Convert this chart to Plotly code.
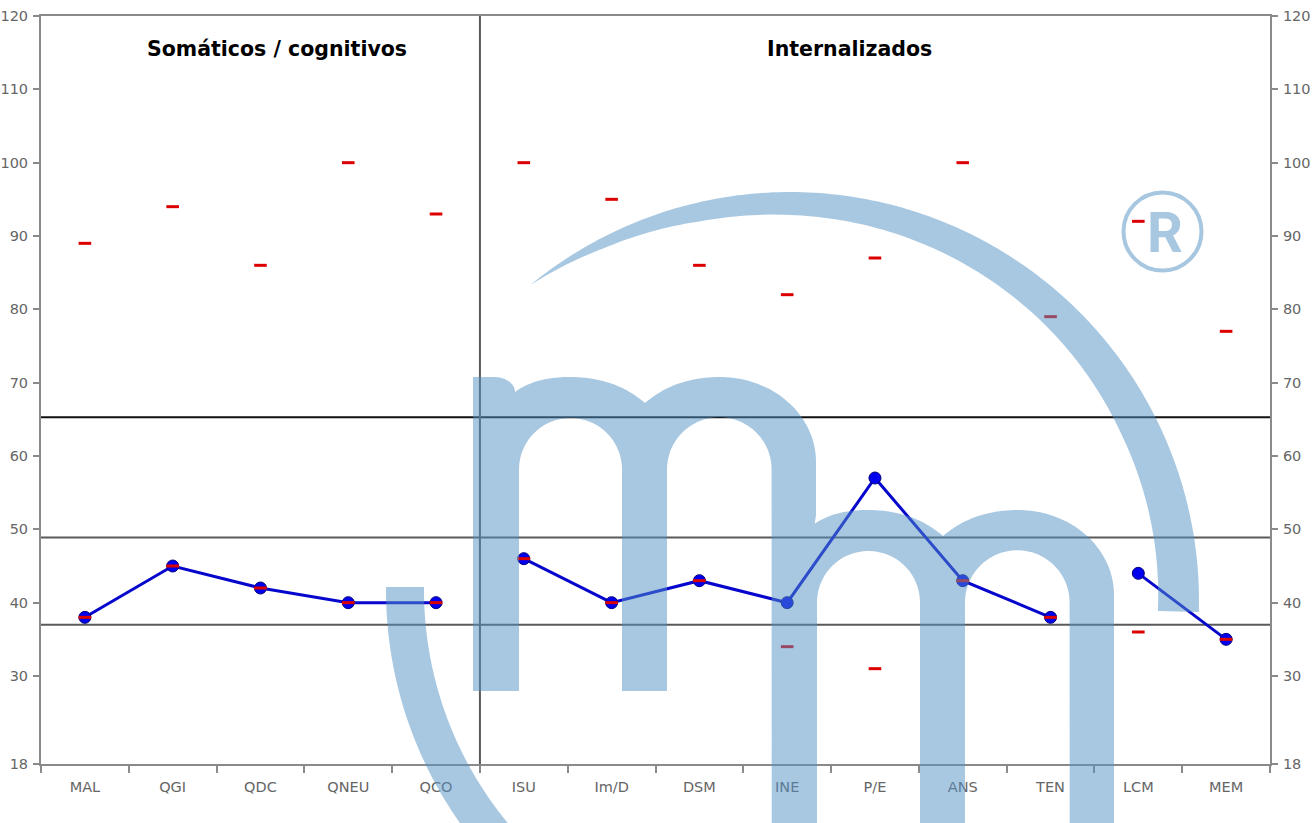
import numpy as np
import plotly.graph_objects as go

# ---------------- data ----------------
categories = ["MAL", "QGI", "QDC", "QNEU", "QCO", "ISU", "Im/D", "DSM",
              "INE", "P/E", "ANS", "TEN", "LCM", "MEM"]
scores = [38, 45, 42, 40, 40, 46, 40, 43, 40, 57, 43, 38, 44, 35]
low_marks = [38, 45, 42, 40, 40, 46, 40, 43, 34, 31, 43, 38, 36, 35]
high_marks = [89, 94, 86, 100, 93, 100, 95, 86, 82, 87, 100, 79, 92, 77]
line_groups = [["MAL", "QGI", "QDC", "QNEU", "QCO"],
               ["ISU", "Im/D", "DSM", "INE", "P/E", "ANS", "TEN"],
               ["LCM", "MEM"]]
ref_levels = [65.3, 48.9, 37]
ref_colors = ["#111111", "#5a5a5a", "#5a5a5a"]
y_ticks = [18, 30, 40, 50, 60, 70, 80, 90, 100, 110, 120]
section_titles = ["Somáticos / cognitivos", "Internalizados"]

# ---------------- geometry of figure ----------------
FIG_W, FIG_H = 1316, 823
L, T, PW, PH = 41, 16, 1229, 748


def to_paper(x, y):
    return (x - L) / PW, (T + PH - y) / PH


def path_str(pts):
    s = []
    for i, (x, y) in enumerate(pts):
        px, py = to_paper(x, y)
        s.append(("M " if i == 0 else "L ") + f"{px:.5f},{py:.5f}")
    return " ".join(s) + " Z"


def qbez(p0, c, p1, n=24):
    t = np.linspace(0, 1, n)[:, None]
    p0, c, p1 = map(np.array, (p0, c, p1))
    pts = (1 - t) ** 2 * p0 + 2 * (1 - t) * t * c + t ** 2 * p1
    return [tuple(p) for p in pts]


def earc(cx, cy, rx, ry, a0, a1, n=48):
    th = np.radians(np.linspace(a0, a1, n))
    return [(cx + rx * np.cos(a), cy - ry * np.sin(a)) for a in th]


def sh(pts, dx, dy):
    return [(x + dx, y + dy) for x, y in pts]


def humps(dx, dy):
    pts = qbez((515, 392), (535, 377), (570, 377))
    pts += qbez((570, 377), (615, 377), (645, 403))[1:]
    pts += qbez((645, 403), (675, 377), (720, 377))[1:]
    pts += earc(720, 462, 96, 85, 90, 0)[1:]
    return sh(pts, dx, dy)


def mm_logo():
    DX, DY = 298, 133
    pts = [(473, 691), (473, 377), (494, 377)]
    pts += earc(494, 392, 21, 15, 90, 0)[1:-1]
    pts += humps(0, 0)                      # ends at (816, 462)
    pts += [(816, 515)]
    pts += humps(DX, DY)[1:]                # second m
    pts += [(816 + DX, 691 + DY), (771.7 + DX, 691 + DY)]
    pts += earc(719.3 + DX, 469.5 + DY, 52.3, 52.3, 0, 180)
    pts += [(667 + DX, 691 + DY), (622 + DX, 691 + DY)]
    pts += earc(570.5 + DX, 469.5 + DY, 51.5, 51.5, 0, 180)
    pts += [(519 + DX, 691 + DY), (771.7, 691 + DY)]
    pts += earc(719.3, 469.5, 52.3, 52.3, 0, 180)
    pts += [(667, 691), (622, 691)]
    pts += earc(570.5, 469.5, 51.5, 51.5, 0, 180)
    pts += [(519, 691)]
    return pts


def crescent():
    cx, cy, r = 790, 601, 409
    th_o = np.linspace(129.45, -1.54, 160)
    outer = [(cx + r * np.cos(np.radians(a)), cy - r * np.sin(np.radians(a))) for a in th_o]
    th_i = np.linspace(-1.54, 129.45, 160)
    thick = np.interp(th_i, [-1.54, 26.7, 90, 103, 118, 129.45], [41, 38, 23, 19, 10, 0])
    inner = [(cx + (r - t) * np.cos(np.radians(a)), cy - (r - t) * np.sin(np.radians(a)))
             for a, t in zip(th_i, thick)]
    return outer + inner


def lower_arc():
    cx, cy, ro, ri = 790, 590, 404, 366
    a_o0 = 180 - np.degrees(np.arcsin(3 / ro))
    a_i0 = 180 - np.degrees(np.arcsin(3 / ri))
    a_o1 = 180 + np.degrees(np.arcsin(245 / ro))
    a_i1 = 180 + np.degrees(np.arcsin(245 / ri))
    inner = earc(cx, cy, ri, ri, a_i0, a_i1, 60)
    outer = earc(cx, cy, ro, ro, a_o1, a_o0, 60)
    return inner + outer


wm_path = " ".join([path_str(mm_logo()), path_str(crescent()), path_str(lower_arc())])
WM_COLOR = "rgb(81,145,197)"

# ---------------- figure ----------------
fig = go.Figure()

for grp in line_groups:
    idx = [categories.index(c) for c in grp]
    fig.add_trace(go.Scatter(
        x=[categories[i] for i in idx], y=[scores[i] for i in idx],
        mode="lines+markers",
        line=dict(color="#0606cc", width=3),
        marker=dict(size=12, color="#0000ee", line=dict(color="#00007a", width=1)),
        hoverinfo="x+y"))

for vals in (low_marks, high_marks):
    fig.add_trace(go.Scatter(
        x=categories, y=vals, mode="markers",
        marker=dict(symbol="line-ew", size=9, line=dict(color="#dd0000", width=3)),
        hoverinfo="x+y"))

# invisible anchor for right axis
fig.add_trace(go.Scatter(x=categories, y=scores, yaxis="y2", mode="markers",
                         marker=dict(opacity=0), hoverinfo="skip"))

shapes = []
for v, col in zip(ref_levels, ref_colors):
    shapes.append(dict(type="line", xref="paper", x0=0, x1=1, yref="y", y0=v, y1=v,
                       line=dict(color=col, width=2), layer="below"))
shapes.append(dict(type="line", xref="x", x0=4.5, x1=4.5, yref="paper", y0=0, y1=1,
                   line=dict(color="#5a5a5a", width=2), layer="below"))
shapes.append(dict(type="path", xref="paper", yref="paper", path=wm_path,
                   fillcolor=WM_COLOR, line=dict(width=0), opacity=0.5, layer="above"))
cx0, cy0 = to_paper(1162.5 - 39, 231.5 + 39)
cx1, cy1 = to_paper(1162.5 + 39, 231.5 - 39)
shapes.append(dict(type="circle", xref="paper", yref="paper", x0=cx0, y0=cy0, x1=cx1, y1=cy1,
                   line=dict(color=WM_COLOR, width=4), opacity=0.5, layer="above"))

ann = []
for title, (px, py) in zip(section_titles, [(277, 49), (850, 49)]):
    ax, ay = to_paper(px, py)
    ann.append(dict(text=title, x=ax, y=ay, xref="paper", yref="paper", showarrow=False,
                    xanchor="center", yanchor="middle",
                    font=dict(family="DejaVu Sans", size=20.5, color="#000000", weight="bold")))
rx, ry = to_paper(1164.5, 233)
ann.append(dict(text="R", x=rx, y=ry, xref="paper", yref="paper", showarrow=False,
                xanchor="center", yanchor="middle",
                font=dict(family="Roboto", size=56, color="rgba(81,145,197,0.5)", weight="bold")))

axis_font = dict(family="DejaVu Sans", size=14.5, color="#666666")
AX_COL = "#8a8a8a"
yaxis_common = dict(range=[18, 120], tickmode="array", tickvals=y_ticks, automargin=False,
                    showgrid=False, zeroline=False, showline=True, linecolor=AX_COL,
                    linewidth=2, ticks="outside", ticklen=6, tickwidth=1.5, tickcolor=AX_COL,
                    tickfont=axis_font, ticklabelstandoff=2)

fig.update_layout(
    width=FIG_W, height=FIG_H,
    margin=dict(l=L, r=FIG_W - L - PW, t=T, b=FIG_H - T - PH, autoexpand=False),
    paper_bgcolor="white", plot_bgcolor="white",
    showlegend=False,
    font=dict(family="DejaVu Sans"),
    xaxis=dict(type="category", categoryorder="array", categoryarray=categories,
               range=[-0.5, len(categories) - 0.5], showgrid=False, zeroline=False,
               automargin=False,
               showline=True, linecolor=AX_COL, linewidth=2, mirror=True,
               ticks="outside", tickson="boundaries", ticklen=7, tickwidth=2,
               tickcolor=AX_COL, tickfont=axis_font, ticklabelstandoff=9),
    yaxis=yaxis_common,
    yaxis2=dict(overlaying="y", side="right", **yaxis_common),
    shapes=shapes,
    annotations=ann,
)

fig.write_html("out.html", config={"displayModeBar": False},
               post_script="document.body.style.margin='0px';document.body.style.overflow='hidden';")
